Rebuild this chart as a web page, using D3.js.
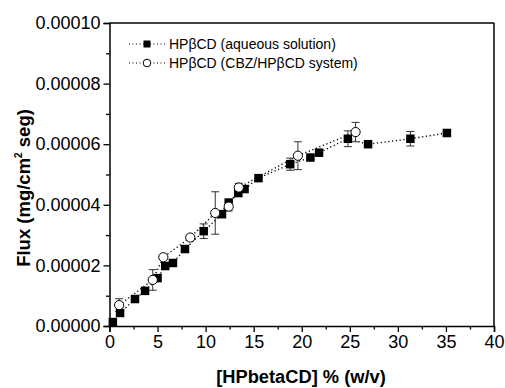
<!DOCTYPE html>
<html>
<head>
<meta charset="utf-8">
<script src="https://cdn.jsdelivr.net/npm/d3@7/dist/d3.min.js"></script>
<style>
  html, body { margin: 0; padding: 0; background: #fff; }
  svg { display: block; font-family: "Liberation Sans", Arial, sans-serif; }
</style>
</head>
<body>
<div id="chart"></div>
<script>
// HPβCD (solucion acuosa) — cuadrados negros
const aqX   = [0.35, 1.1, 2.65, 3.7, 5.0, 5.8, 6.6, 7.85, 9.8, 11.7, 12.4, 13.4, 14.05, 15.5, 18.8, 20.9, 21.8, 24.8, 26.9, 31.3, 35.1];
const aqY   = [1.3e-6, 4.3e-6, 8.9e-6, 11.6e-6, 15.8e-6, 19.8e-6, 20.8e-6, 25.4e-6, 31.3e-6, 36.9e-6, 40.6e-6, 43.9e-6, 45.2e-6, 48.8e-6, 53.4e-6, 55.6e-6, 57.2e-6, 61.8e-6, 60.0e-6, 61.8e-6, 63.7e-6];
const aqErr = [0, 0, 0, 0, 0, 0, 0, 0, 2.4e-6, 0, 1.4e-6, 1.2e-6, 0, 0, 2.0e-6, 0, 1.0e-6, 2.6e-6, 0, 2.4e-6, 0];

// HPβCD (sistema CBZ/HPβCD) — circulos blancos
const cbX   = [1.0, 4.5, 5.6, 8.4, 11.0, 12.4, 13.45, 19.6, 25.6];
const cbY   = [6.9e-6, 15.2e-6, 22.7e-6, 29.2e-6, 37.3e-6, 39.4e-6, 45.7e-6, 56.2e-6, 64.0e-6];
const cbErr = [2.1e-6, 3.4e-6, 0, 0.8e-6, 7.0e-6, 1.4e-6, 1.4e-6, 4.6e-6, 3.2e-6];

const xTicks = [0, 5, 10, 15, 20, 25, 30, 35, 40];
const yTicks = [0, 0.00002, 0.00004, 0.00006, 0.00008, 0.00010];
const legendLabels = ['HPβCD (aqueous solution)', 'HPβCD (CBZ/HPβCD system)'];

const W = 505, H = 388;
const m = { top: 23, right: 11, bottom: 62, left: 109.5 };
const w = W - m.left - m.right, h = H - m.top - m.bottom;

const svg = d3.select('#chart').append('svg').attr('width', W).attr('height', H);
const g = svg.append('g').attr('transform', `translate(${m.left},${m.top})`);

const xS = d3.scaleLinear().domain([0, 40]).range([0, w]);
const yS = d3.scaleLinear().domain([0, 0.0001]).range([h, 0]);

// Ejes con ticks menores
const minorX = d3.range(0, 40.01, 2.5).filter(v => v % 5 !== 0);
const minorY = d3.range(0.00001, 0.0001, 0.00002);

const xAx = g.append('g').attr('transform', `translate(0,${h})`)
  .call(d3.axisBottom(xS).tickValues(xTicks).tickSize(6).tickPadding(3).tickFormat(d3.format('d')));
g.append('g').attr('transform', `translate(0,${h})`)
  .call(d3.axisBottom(xS).tickValues(minorX).tickSize(3.5).tickFormat(''))
  .call(a => a.select('.domain').remove());

const yAx = g.append('g')
  .call(d3.axisLeft(yS).tickValues(yTicks).tickSize(6).tickPadding(3).tickFormat(d3.format('.5f')));
g.append('g')
  .call(d3.axisLeft(yS).tickValues(minorY).tickSize(3.5).tickFormat(''))
  .call(a => a.select('.domain').remove());

g.selectAll('.tick line').attr('stroke', '#000').attr('stroke-width', 1.3);
g.selectAll('.domain').attr('stroke', '#000').attr('stroke-width', 1.5);
[xAx, yAx].forEach(a => a.selectAll('text')
  .attr('font-family', '"Liberation Sans", Arial, sans-serif').attr('font-size', 18).attr('fill', '#000'));

// Marco superior y derecho
g.append('line').attr('x1', 0).attr('x2', w).attr('y1', 0).attr('y2', 0).attr('stroke', '#000').attr('stroke-width', 1.5);
g.append('line').attr('x1', w).attr('x2', w).attr('y1', 0).attr('y2', h).attr('stroke', '#000').attr('stroke-width', 1.5);

// Titulos de ejes
svg.append('text').attr('x', 301).attr('y', 383)
  .attr('text-anchor', 'middle').attr('font-weight', 'bold').attr('font-size', 18.3)
  .text('[HPbetaCD] % (w/v)');

const yt = svg.append('text').attr('transform', `translate(29.5,188) rotate(-90)`)
  .attr('text-anchor', 'middle').attr('font-weight', 'bold').attr('font-size', 18.5);
yt.append('tspan').text('Flux (mg/cm');
yt.append('tspan').attr('dy', -8).attr('font-size', 10).text('2');
yt.append('tspan').attr('dy', 8).text(' seg)');

// Lineas punteadas
const line = d3.line().x(d => xS(d[0])).y(d => yS(d[1]));
const aq = aqX.map((x, i) => [x, aqY[i], aqErr[i]]);
const cb = cbX.map((x, i) => [x, cbY[i], cbErr[i]]);
[aq, cb].forEach(s => g.append('path').attr('d', line(s)).attr('fill', 'none')
  .attr('stroke', '#000').attr('stroke-width', 1.4).attr('stroke-dasharray', '1.2,2.6'));

// Barras de error
function errBars(s) {
  s.filter(d => d[2] > 0).forEach(d => {
    const x = xS(d[0]), y1 = yS(d[1] - d[2]), y2 = yS(d[1] + d[2]);
    g.append('line').attr('x1', x).attr('x2', x).attr('y1', y1).attr('y2', y2).attr('stroke', '#333').attr('stroke-width', 1);
    [y1, y2].forEach(y => g.append('line').attr('x1', x - 4).attr('x2', x + 4).attr('y1', y).attr('y2', y)
      .attr('stroke', '#333').attr('stroke-width', 1));
  });
}
errBars(aq);
errBars(cb);

const sq = 8.5;
g.selectAll('.sq').data(aq).enter().append('rect')
  .attr('x', d => xS(d[0]) - sq / 2).attr('y', d => yS(d[1]) - sq / 2)
  .attr('width', sq).attr('height', sq).attr('fill', '#000');
g.selectAll('.ci').data(cb).enter().append('circle')
  .attr('cx', d => xS(d[0])).attr('cy', d => yS(d[1])).attr('r', 4.6)
  .attr('fill', '#fff').attr('stroke', '#000').attr('stroke-width', 1);

// Leyenda
const lg = svg.append('g');
legendLabels.forEach((lab, i) => {
  const y = 44 + i * 19;
  lg.append('line').attr('x1', 129).attr('x2', 166).attr('y1', y).attr('y2', y)
    .attr('stroke', '#000').attr('stroke-width', 1.2).attr('stroke-dasharray', '1,2.5');
  if (i === 0) lg.append('rect').attr('x', 143.5).attr('y', y - 3.5).attr('width', 7).attr('height', 7).attr('fill', '#000');
  else lg.append('circle').attr('cx', 147).attr('cy', y).attr('r', 3.8).attr('fill', '#fff').attr('stroke', '#000');
  lg.append('text').attr('x', 169).attr('y', y + 5).attr('font-size', 14).text(lab);
});
</script>
</body>
</html>
